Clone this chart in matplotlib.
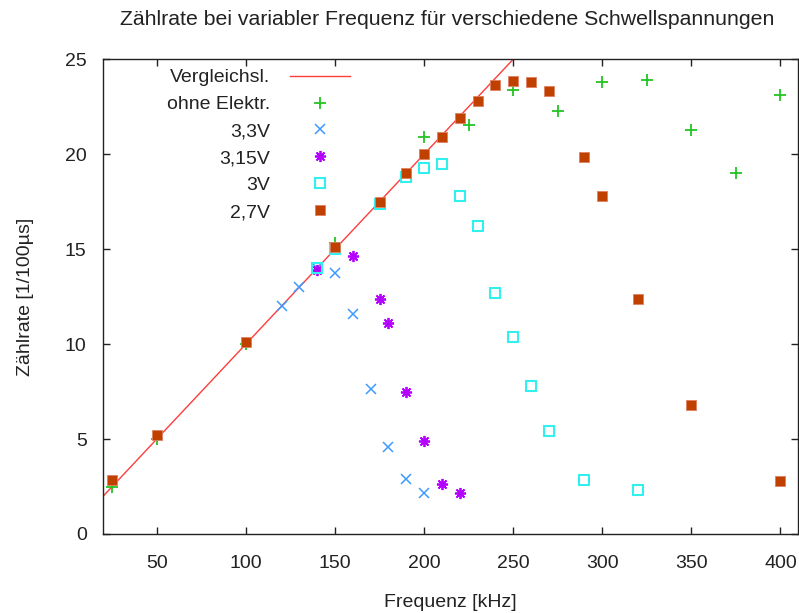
import matplotlib
matplotlib.use("Agg")
import matplotlib.pyplot as plt

plt.rcParams["font.family"] = ["Liberation Sans", "DejaVu Sans"]

# Vergleichsgerade: Zählrate = Frequenz / 10
ref_x = [20, 250]
ref_y = [2.0, 25.0]

# ohne Elektronik
f_ohne = [25, 50, 100, 150, 200, 225, 250, 275, 300, 325, 350, 375, 400]
z_ohne = [2.5, 5.0, 10.0, 15.3, 20.9, 21.55, 23.4, 22.3, 23.8, 23.9, 21.3, 19.0, 23.1]

# Schwelle 3,3 V
f_33 = [120, 130, 140, 150, 160, 170, 180, 190, 200]
z_33 = [12.0, 13.0, 14.0, 13.75, 11.6, 7.65, 4.6, 2.9, 2.15]

# Schwelle 3,15 V
f_315 = [140, 160, 175, 180, 190, 200, 210, 220]
z_315 = [13.9, 14.65, 12.4, 11.1, 7.5, 4.9, 2.65, 2.15]

# Schwelle 3 V
f_30 = [140, 150, 175, 190, 200, 210, 220, 230, 240, 250, 260, 270, 290, 320]
z_30 = [14.0, 15.0, 17.4, 18.8, 19.3, 19.5, 17.8, 16.2, 12.7, 10.35, 7.8, 5.4, 2.85, 2.3]

# Schwelle 2,7 V
f_27 = [25, 50, 100, 150, 175, 190, 200, 210, 220, 230, 240, 250, 260, 270,
        290, 300, 320, 350, 400]
z_27 = [2.85, 5.2, 10.1, 15.1, 17.5, 19.0, 20.0, 20.9, 21.9, 22.8, 23.65, 23.85,
        23.8, 23.35, 19.85, 17.8, 12.35, 6.8, 2.8]

FS = 14
TXT = "#222222"

fig = plt.figure(figsize=(7.99, 6.13), dpi=100)
ax = fig.add_axes([0.1293, 0.1289, 0.8698, 0.7744])

ax.plot(ref_x, ref_y, color="#ff3c3c", lw=1.0, label="Vergleichsl.")
ax.plot(f_ohne, z_ohne, ls="none", marker="+", ms=8, mew=1.3, color="#22c422",
        label="ohne Elektr.")
ax.plot(f_33, z_33, ls="none", marker="x", ms=7, mew=1.1, color="#3d9bff",
        label="3,3V")
ax.plot(f_315, z_315, ls="none", marker=(8, 2, 0), ms=8, mew=1.3, color="#b400ff",
        label="3,15V")
ax.plot(f_30, z_30, ls="none", marker="s", ms=7, mew=1.5, mfc="none",
        color="#33f0f0", label="3V")
ax.plot(f_27, z_27, ls="none", marker="s", ms=7.5, mew=0.6, color="#c04000",
        mec="#e08060", label="2,7V")

ax.set_xlim(20, 410)
ax.set_ylim(0, 25)
ax.set_xticks([50, 100, 150, 200, 250, 300, 350, 400])
ax.set_yticks([0, 5, 10, 15, 20, 25])
ax.tick_params(direction="in", length=5, width=1, top=True, right=True,
               labelsize=FS, colors=TXT)
ax.tick_params(axis="x", pad=15)
ax.tick_params(axis="y", pad=12)
for s in ax.spines.values():
    s.set_color(TXT)
    s.set_linewidth(1)

ax.set_xlabel("Frequenz [kHz]", fontsize=FS, labelpad=16, color=TXT)
ax.set_ylabel("Zählrate [1/100µs]", fontsize=FS, labelpad=22, color=TXT)
fig.text(0.5595, 0.968, "Zählrate bei variabler Frequenz für verschiedene Schwellspannungen",
         ha="center", va="center", fontsize=15.3, color=TXT)

leg = ax.legend(loc="upper right", bbox_to_anchor=(0.355, 0.980), frameon=False,
                markerfirst=False, fontsize=FS, handlelength=3.1,
                labelspacing=0.48, handletextpad=1.0, borderaxespad=0.0,
                borderpad=0.0)
for t in leg.get_texts():
    t.set_color(TXT)

fig.savefig("out.png", dpi=100)
